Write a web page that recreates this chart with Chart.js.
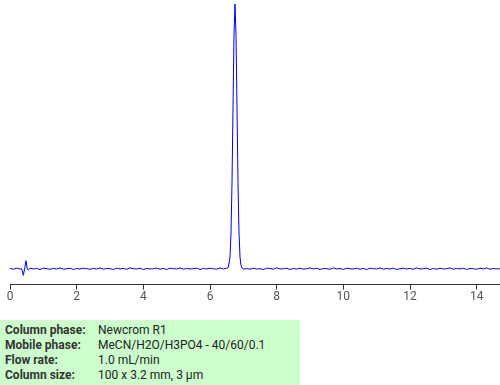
<!DOCTYPE html>
<html>
<head>
<meta charset="utf-8">
<script src="https://cdn.jsdelivr.net/npm/chart.js@4"></script>
<style>
html,body{margin:0;padding:0;background:#fff;}
body{width:500px;height:385px;position:relative;overflow:hidden;font-family:Roboto,"Liberation Sans",sans-serif;}
#wrap{position:absolute;left:0;top:0;width:500px;height:320px;}
#info{position:absolute;left:0;top:320px;width:300px;height:65px;background:#ccffcc;}
.row{position:absolute;left:0;height:15px;line-height:15px;font-size:12px;white-space:nowrap;}
.lab{position:absolute;left:5px;font-weight:bold;color:#333;}
.val{position:absolute;left:98px;color:#222;}
</style>
</head>
<body>
<div id="wrap"><canvas id="c" width="500" height="320"></canvas></div>
<div id="info"></div>
<script>
const times = [0.0,0.1,0.2,0.3,0.35,0.4,0.45,0.48,0.52,0.55,
0.6,0.7,0.8,0.9,1.0,1.1,1.2,1.3,1.4,1.5,1.6,1.7,1.8,1.9,2.0,2.1,2.2,2.3,2.4,2.5,
2.6,2.7,2.8,2.9,3.0,3.1,3.2,3.3,3.4,3.5,3.6,3.7,3.8,3.9,4.0,4.1,4.2,4.3,4.4,4.5,
4.6,4.7,4.8,4.9,5.0,5.1,5.2,5.3,5.4,5.5,5.6,5.7,5.8,5.9,6.0,6.1,6.2,6.3,6.4,6.5,
6.55,6.6,6.63,6.66,6.69,6.72,6.75,6.78,6.81,6.84,6.87,6.9,6.93,6.96,7.0,
7.1,7.2,7.3,7.4,7.5,7.6,7.7,7.8,7.9,8.0,8.1,8.2,8.3,8.4,8.5,8.6,8.7,8.8,8.9,9.0,
9.1,9.2,9.3,9.4,9.5,9.6,9.7,9.8,9.9,10.0,10.1,10.2,10.3,10.4,10.5,10.6,10.7,10.8,10.9,11.0,
11.1,11.2,11.3,11.4,11.5,11.6,11.7,11.8,11.9,12.0,12.1,12.2,12.3,12.4,12.5,12.6,12.7,12.8,12.9,13.0,
13.1,13.2,13.3,13.4,13.5,13.6,13.7,13.8,13.9,14.0,14.1,14.2,14.3,14.4,14.5,14.6,14.7];
const signal = [1,-2,2,-1,0,-25,8,30,-2,-4,
2,-1,1,-3,2,0,-2,1,-1,3,-2,0,2,-3,1,-1,2,0,-2,1,
-1,3,-2,1,0,-3,2,-1,1,-2,3,0,-1,2,-3,1,-1,0,2,-2,
1,-3,2,0,-1,3,-2,1,-1,0,2,-3,1,-1,2,0,-2,3,-1,2,
5,44,135,325,607,882,1000,882,607,325,135,44,12,3,-2,
1,-2,2,-1,0,-3,2,1,-2,3,-1,0,2,-3,1,-1,2,-2,0,3,
-1,2,-3,1,0,-2,3,-1,1,-3,2,0,-1,2,-2,1,-3,2,0,-1,
3,-2,1,-1,2,-3,0,2,-1,1,-2,3,-1,0,2,-3,1,-2,2,-1,
0,3,-2,1,-1,2,-3,1,0,-2,2,-1,3,-2,1,-1,0];
const xTicks = [0,2,4,6,8,10,12,14];
const infoLabels = ["Column phase:","Mobile phase:","Flow rate:","Column size:"];
const infoValues = ["Newcrom R1","MeCN/H2O/H3PO4 - 40/60/0.1","1.0 mL/min","100 x 3.2 mm, 3 µm"];

const info = document.getElementById('info');
infoLabels.forEach((l,i)=>{
  const r = document.createElement('div');
  r.className='row'; r.style.top=(3+i*15)+'px';
  const a=document.createElement('span'); a.className='lab'; a.textContent=l;
  const b=document.createElement('span'); b.className='val'; b.textContent=infoValues[i];
  r.appendChild(a); r.appendChild(b); info.appendChild(r);
});

const pts = times.map((t,i)=>({x:t,y:signal[i]}));
new Chart(document.getElementById('c'),{
  type:'line',
  data:{datasets:[{data:pts,borderColor:'#0000ff',borderWidth:1,pointRadius:0,tension:0,fill:false}]},
  options:{
    responsive:false,animation:false,
    layout:{padding:{left:10,right:0,top:0,bottom:16}},
    plugins:{legend:{display:false},tooltip:{enabled:false}},
    scales:{
      x:{type:'linear',min:0,max:14.7,
        afterBuildTicks:(ax)=>{ax.ticks=xTicks.map(v=>({value:v}));},
        ticks:{color:'#555',font:{family:'Roboto',size:12},padding:0,maxRotation:0,autoSkip:false},
        grid:{display:true,drawOnChartArea:false,drawTicks:true,tickLength:5,color:'#333'},
        border:{display:true,color:'#333',width:1}},
      y:{display:false,min:-60,max:1015}
    }
  }
});
</script>
</body>
</html>
